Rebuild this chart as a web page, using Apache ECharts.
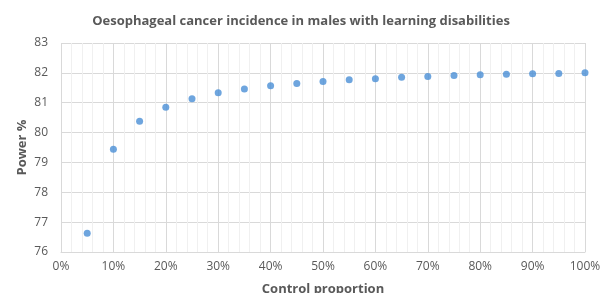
<!DOCTYPE html>
<html>
<head>
<meta charset="utf-8">
<script src="https://cdn.jsdelivr.net/npm/echarts@6/dist/echarts.min.js"></script>
<style>html,body{margin:0;padding:0;background:#fff}#c{width:602px;height:293px}</style>
</head>
<body>
<div id="c"></div>
<script>
const controlProportion = [0.05,0.10,0.15,0.20,0.25,0.30,0.35,0.40,0.45,0.50,0.55,0.60,0.65,0.70,0.75,0.80,0.85,0.90,0.95,1.00];
const powerPct = [76.63,79.44,80.38,80.85,81.13,81.33,81.46,81.57,81.64,81.71,81.77,81.80,81.85,81.88,81.91,81.94,81.95,81.97,81.98,82.00];
const titleText = 'Oesophageal cancer incidence in males with learning disabilities';
const xTitle = 'Control proportion';
const yTitle = 'Power %';

const chart = echarts.init(document.getElementById('c'), null, {renderer:'canvas'});
const font = '"Open Sans", sans-serif';
chart.setOption({
  animation:false,
  title:{text:titleText,left:'center',top:10,textStyle:{fontFamily:font,fontSize:13,fontWeight:'bold',color:'#595959'}},
  grid:{left:61,right:17,top:43,bottom:41,containLabel:false,outerBoundsMode:'none'},
  xAxis:{type:'value',min:0,max:1,interval:0.1,
    name:xTitle,nameLocation:'middle',nameGap:31,nameMoveOverlap:false,
    nameTextStyle:{fontFamily:font,fontSize:13,fontWeight:'bold',color:'#595959'},
    axisLine:{show:true,lineStyle:{color:'#d9d9d9'}},axisTick:{show:false},
    axisLabel:{fontFamily:font,fontSize:12,color:'#595959',margin:9,formatter:v=>Math.round(v*100)+'%'},
    splitLine:{show:true,lineStyle:{color:'#d9d9d9'}},
    minorTick:{show:false,splitNumber:5},
    minorSplitLine:{show:true,lineStyle:{color:'#f0f0f0'}}},
  yAxis:{type:'value',min:76,max:83,interval:1,
    name:yTitle,nameLocation:'middle',nameGap:32,nameMoveOverlap:false,
    nameTextStyle:{fontFamily:font,fontSize:13,fontWeight:'bold',color:'#595959'},
    axisLine:{show:false},axisTick:{show:false},
    axisLabel:{fontFamily:font,fontSize:12,color:'#595959',margin:13},
    splitLine:{show:true,lineStyle:{color:'#d9d9d9'}}},
  series:[{type:'scatter',symbol:'circle',symbolSize:7,
    itemStyle:{color:'#4a8fd6'},
    data:controlProportion.map((x,i)=>[x,powerPct[i]])}]
});
</script>
</body>
</html>
